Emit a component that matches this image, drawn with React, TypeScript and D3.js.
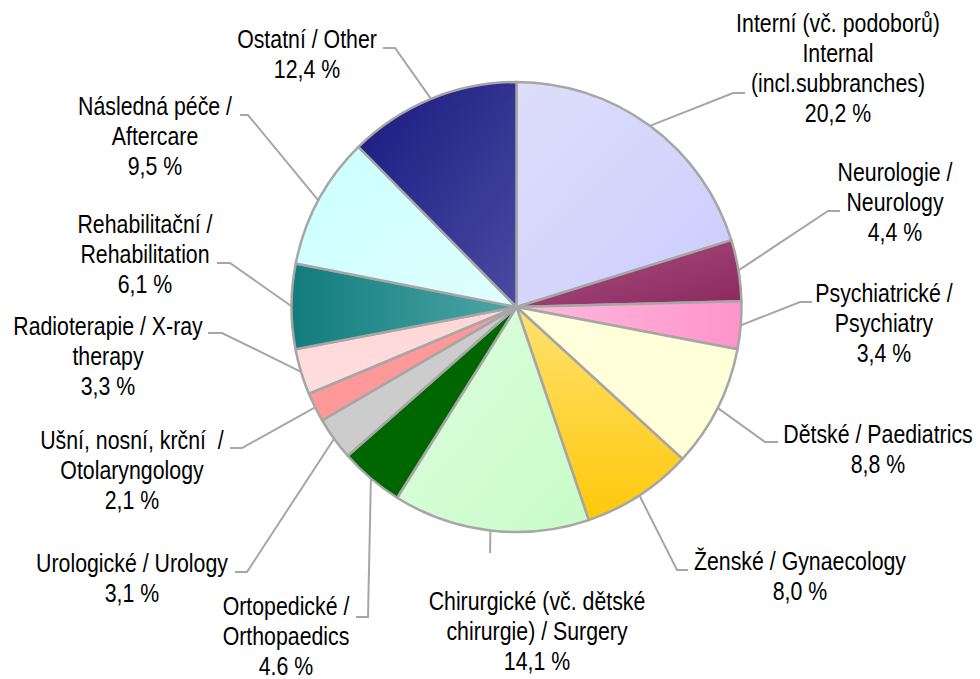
import { useEffect, useRef } from 'react'
import * as d3 from 'd3'

const W = 980, H = 679
const CX = 516.5, CY = 307, R = 225

// data, clockwise from 12 o'clock
const names = [
  ['Interní (vč. podoborů)', 'Internal', '(incl.subbranches)'],
  ['Neurologie /', 'Neurology'],
  ['Psychiatrické /', 'Psychiatry'],
  ['Dětské / Paediatrics'],
  ['Ženské / Gynaecology'],
  ['Chirurgické (vč. dětské', 'chirurgie) / Surgery'],
  ['Ortopedické /', 'Orthopaedics'],
  ['Urologické / Urology'],
  ['Ušní, nosní, krční  /', 'Otolaryngology'],
  ['Radioterapie / X-ray', 'therapy'],
  ['Rehabilitační /', 'Rehabilitation'],
  ['Následná péče /', 'Aftercare'],
  ['Ostatní / Other'],
]
const values = [20.2, 4.4, 3.4, 8.8, 8.0, 14.1, 4.6, 3.1, 2.1, 3.3, 6.1, 9.5, 12.4]
const valueLabels = ['20,2 %', '4,4 %', '3,4 %', '8,8 %', '8,0 %', '14,1 %', '4.6 %', '3,1 %', '2,1 %', '3,3 %', '6,1 %', '9,5 %', '12,4 %']

// gradient stops [from, to] and direction
const fills = [
  ['#dedefa', '#ccccff', 'diag'],
  ['#a8527e', '#8c2860', 'diag'],
  ['#ffbcde', '#ff94ca', 'horiz'],
  ['#ffffdc', '#ffffd6', 'diag'],
  ['#ffe270', '#ffc80a', 'vert'],
  ['#defede', '#c8fcc8', 'diag'],
  ['#006600', '#006600', 'diag'],
  ['#cccccc', '#cccccc', 'diag'],
  ['#ff9999', '#ff9999', 'diag'],
  ['#ffd6d6', '#ffdede', 'vert'],
  ['#127c7c', '#4ea6a6', 'horiz'],
  ['#caffff', '#e0ffff', 'diag'],
  ['#191980', '#4b4ba2', 'diag'],
]

// label layout: text centre x, first baseline y, leader elbow [x, y], leader end x
const labelPos = [
  { x: 838, y: 32, elbow: [733, 93], end: 745 },
  { x: 895, y: 181, elbow: [828, 211], end: 840 },
  { x: 884, y: 302, elbow: [800, 302], end: 812 },
  { x: 878, y: 443, elbow: [765, 442], end: 778 },
  { x: 800, y: 570, elbow: [677, 570], end: 688 },
  { x: 537, y: 610, elbow: [490, 553], end: 490 },
  { x: 286, y: 615, elbow: [368, 617], end: 356 },
  { x: 132, y: 572, elbow: [247, 572], end: 235 },
  { x: 132, y: 449, elbow: [242, 448], end: 230 },
  { x: 108, y: 335, elbow: [222, 333], end: 208 },
  { x: 145, y: 233, elbow: [230, 263], end: 217 },
  { x: 155, y: 115, elbow: [248, 115], end: 240 },
  { x: 307, y: 48, elbow: [395, 48], end: 383 },
]

const LINE_H = 30
const NARROW = 0.82 // no Arial Narrow installed: squeeze Liberation Sans

export default function App() {
  const svgRef = useRef<SVGSVGElement>(null)

  useEffect(() => {
    const svg = d3.select(svgRef.current)
    svg.selectAll('*').remove()

    const defs = svg.append('defs')
    fills.forEach(([a, b, dir], i) => {
      const g = defs.append('linearGradient').attr('id', `g${i}`)
      if (dir === 'horiz') g.attr('x1', 0).attr('y1', 0).attr('x2', 1).attr('y2', 0)
      else if (dir === 'vert') g.attr('x1', 0).attr('y1', 0).attr('x2', 0).attr('y2', 1)
      else g.attr('x1', 0).attr('y1', 0).attr('x2', 1).attr('y2', 1)
      g.append('stop').attr('offset', 0).attr('stop-color', a)
      g.append('stop').attr('offset', 1).attr('stop-color', b)
    })

    const pie = d3.pie<number>().sort(null).value(d => d)
    const arcs = pie(values)
    const arc = d3.arc<d3.PieArcDatum<number>>().innerRadius(0).outerRadius(R)

    const g = svg.append('g').attr('transform', `translate(${CX},${CY})`)
    g.selectAll('path')
      .data(arcs)
      .join('path')
      .attr('d', arc)
      .attr('fill', (_, i) => `url(#g${i})`)
      .attr('stroke', '#a6a6a6')
      .attr('stroke-width', 2.5)
      .attr('stroke-linejoin', 'round')

    // leader lines
    const lead = svg.append('g')
    arcs.forEach((a, i) => {
      const mid = (a.startAngle + a.endAngle) / 2
      const sx = CX + R * Math.sin(mid), sy = CY - R * Math.cos(mid)
      const p = labelPos[i]
      const pts: [number, number][] = [[sx, sy], [p.elbow[0], p.elbow[1]], [p.end, p.elbow[1]]]
      lead.append('path')
        .attr('d', d3.line()(pts))
        .attr('fill', 'none')
        .attr('stroke', '#a6a6a6')
        .attr('stroke-width', 2)
    })

    // labels
    const lab = svg.append('g')
      .attr('font-family', "'Liberation Sans', Arial, sans-serif")
      .attr('font-size', 26)
      .attr('fill', '#000')
      .attr('text-anchor', 'middle')
    names.forEach((lines, i) => {
      const p = labelPos[i]
      const t = lab.append('text')
        .attr('transform', `translate(${p.x},0) scale(${NARROW},1)`)
        .attr('xml:space', 'preserve')
      ;[...lines, valueLabels[i]].forEach((s, k) => {
        t.append('tspan').attr('x', 0).attr('y', p.y + k * LINE_H).text(s)
      })
    })
  }, [])

  return (
    <svg
      ref={svgRef}
      width={W}
      height={H}
      viewBox={`0 0 ${W} ${H}`}
      style={{ position: 'absolute', left: 0, top: 0, background: '#fff' }}
    />
  )
}
